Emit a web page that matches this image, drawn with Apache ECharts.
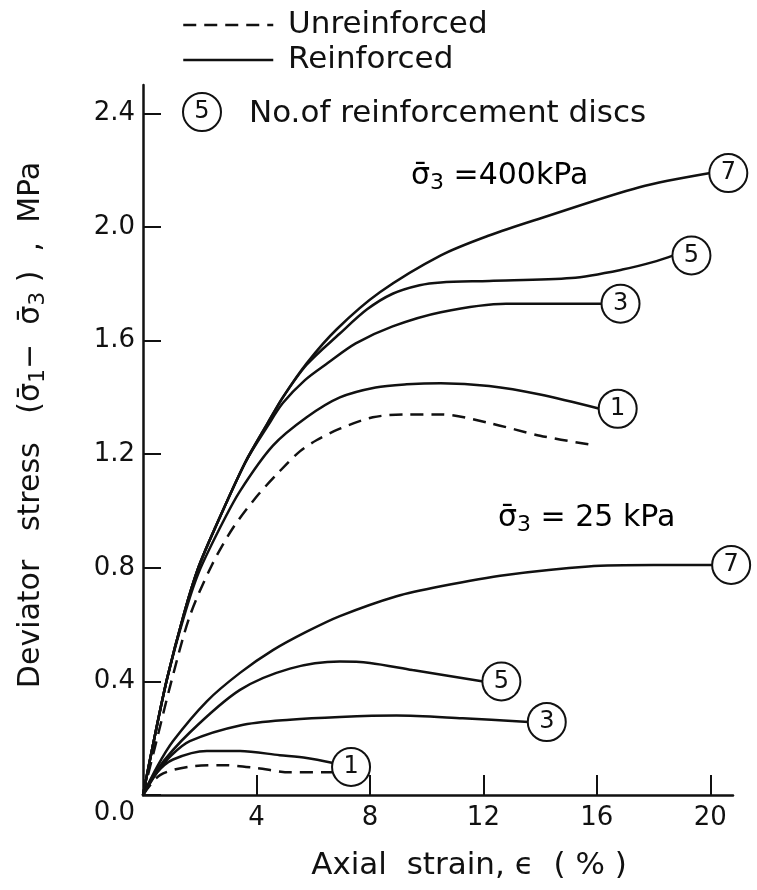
<!DOCTYPE html>
<html>
<head>
<meta charset="utf-8">
<script src="https://cdn.jsdelivr.net/npm/echarts@6/dist/echarts.min.js"></script>
<style>
html,body{margin:0;padding:0;background:#fff;}
#chart{width:757px;height:890px;}
</style>
</head>
<body>
<div id="chart"></div>
<script>
// ---- Data (axial strain %, deviator stress MPa) ----
const xTicks = [4, 8, 12, 16, 20];
const yTicks = [0, 0.4, 0.8, 1.2, 1.6, 2.0, 2.4];

// sigma3 = 400 kPa
const unreinforced400 = [[0,0],[0.5,0.2],[1.0,0.4],[1.65,0.63],[2.43,0.81],[3.17,0.94],[4.0,1.05],[4.82,1.14],[5.53,1.21],[6.13,1.25],[6.94,1.29],[8.1,1.33],[9.3,1.34],[10.5,1.34],[12.2,1.31],[14.0,1.265],[15.7,1.235]];
const discs7_400 = [[0,0],[0.4,0.2],[0.85,0.41],[1.45,0.64],[1.95,0.8],[2.54,0.94],[3.6,1.17],[4.4,1.31],[4.93,1.4],[5.77,1.52],[6.83,1.64],[8.35,1.77],[10.5,1.9],[12.2,1.97],[14.0,2.03],[17.5,2.14],[20.0,2.19]];
const discs5_400 = [[0,0],[0.4,0.2],[0.85,0.41],[1.45,0.64],[1.95,0.8],[2.54,0.94],[3.6,1.17],[4.4,1.31],[4.93,1.4],[5.77,1.515],[6.94,1.625],[7.9,1.71],[8.8,1.765],[9.75,1.795],[10.5,1.805],[12.2,1.81],[15.1,1.82],[16.9,1.85],[18.1,1.88],[18.7,1.9]];
const discs3_400 = [[0,0],[0.4,0.2],[0.85,0.41],[1.45,0.64],[1.95,0.8],[2.54,0.94],[3.6,1.17],[4.4,1.3],[4.93,1.38],[5.7,1.46],[6.5,1.52],[7.5,1.59],[8.8,1.65],[10.5,1.7],[12.8,1.73],[15.1,1.73],[16.2,1.73]];
const discs1_400 = [[0,0],[0.4,0.2],[0.85,0.41],[1.45,0.63],[1.95,0.78],[2.71,0.94],[3.42,1.07],[4.58,1.23],[5.77,1.33],[6.94,1.4],[8.2,1.435],[9.3,1.446],[10.5,1.45],[12.2,1.44],[14.0,1.41],[16.1,1.36]];

// sigma3 = 25 kPa
const unreinforced25 = [[0,0],[0.6,0.07],[1.65,0.1],[2.82,0.105],[4.0,0.095],[5.18,0.08],[6.7,0.08]];
const discs7_25 = [[0,0],[0.5,0.1],[1.06,0.19],[2.25,0.33],[3.42,0.43],[4.58,0.51],[5.77,0.575],[6.94,0.63],[8.94,0.7],[10.5,0.735],[12.8,0.775],[15.7,0.805],[18.0,0.81],[20.1,0.81]];
const discs5_25 = [[0,0],[0.5,0.09],[1.65,0.22],[3.42,0.37],[5.18,0.445],[6.94,0.47],[8.0,0.465],[9.5,0.44],[12.0,0.4]];
const discs3_25 = [[0,0],[0.5,0.08],[1.0,0.14],[1.65,0.19],[3.42,0.245],[5.18,0.265],[6.94,0.275],[8.94,0.28],[11.27,0.27],[13.6,0.257]];
const discs1_25 = [[0,0],[0.5,0.08],[1.06,0.125],[2.25,0.155],[3.42,0.155],[4.82,0.14],[5.77,0.13],[6.7,0.113]];

const FONT = 'DejaVu Sans';
const INK = '#111';
const SIGMA_RICH = {
  t: { fontSize: 30, fontFamily: FONT, color: INK, lineHeight: 40, verticalAlign: 'middle' },
  s: { fontSize: 22, fontFamily: FONT, color: INK, lineHeight: 40, verticalAlign: 'bottom', padding: [0, 0, 2, 0] }
};

function circleLabel(n, offset) {
  return {
    show: true,
    distance: 0,
    offset: offset || [0, 0],
    formatter: '{c|' + n + '}',
    rich: {
      c: {
        width: 36, height: 36, lineHeight: 36, align: 'center',
        borderRadius: 19, borderWidth: 2, borderColor: INK,
        backgroundColor: '#fff', color: INK, fontSize: 24, fontFamily: FONT
      }
    }
  };
}

function solid(data, n, offset) {
  return {
    name: 'Reinforced', type: 'line', data: data, symbol: 'none',
    smooth: 0.3, color: INK,
    lineStyle: { color: INK, width: 2.5 },
    endLabel: circleLabel(n, offset), z: 3
  };
}
function dashed(data) {
  return {
    name: 'Unreinforced', type: 'line', data: data, symbol: 'none',
    smooth: 0.3, color: INK,
    lineStyle: { color: INK, width: 2.5, type: [13, 8] }, z: 2
  };
}

const chart = echarts.init(document.getElementById('chart'), null, { renderer: 'canvas' });
chart.setOption({
  animation: false,
  backgroundColor: '#fff',
  grid: { left: 143, right: 24, top: 85, bottom: 95 },
  legend: {
    data: ['Unreinforced', 'Reinforced'],
    orient: 'vertical', left: 177, top: 4,
    itemWidth: 90, itemHeight: 14, itemGap: 3,
    selectedMode: false,
    itemStyle: { opacity: 0 },
    lineStyle: { width: 2.5, color: INK },
    formatter: function (name) { return ' ' + name; },
    textStyle: { fontSize: 31, fontFamily: FONT, color: INK, lineHeight: 32 }
  },
  xAxis: {
    type: 'value', min: 0, max: 20.8,
    splitLine: { show: false },
    axisLine: { show: true, lineStyle: { color: INK, width: 2.5 } },
    axisTick: { show: true, inside: true, length: 20, customValues: xTicks, lineStyle: { color: INK, width: 2 } },
    axisLabel: { customValues: xTicks, fontSize: 26, fontFamily: FONT, color: INK, margin: 10 },
    name: 'Axial  strain, ϵ  ( % )', nameLocation: 'middle', nameGap: 55,
    nameTextStyle: { fontSize: 31, fontFamily: FONT, color: INK, padding: [0, 0, 0, 62] }
  },
  yAxis: {
    type: 'value', min: 0, max: 2.5,
    splitLine: { show: false },
    axisLine: { show: true, lineStyle: { color: INK, width: 2.5 } },
    axisTick: { show: true, inside: true, length: 18, customValues: yTicks, lineStyle: { color: INK, width: 2 } },
    axisLabel: {
      customValues: yTicks, fontSize: 26, fontFamily: FONT, color: INK, margin: 8,
      formatter: function (v) { return v === 0 ? '{low|0.0}' : v.toFixed(1); },
      rich: { low: { fontSize: 26, fontFamily: FONT, color: INK, padding: [36, 0, 0, 0] } }
    },
    name: '{t|Deviator   stress   (σ̄}{s|1}{t|−  σ̄}{s|3}{t| )  ,  MPa}', nameLocation: 'middle', nameGap: 92, nameRotate: 90,
    nameTextStyle: { color: INK, padding: [0, 0, 0, 30], rich: SIGMA_RICH }
  },
  graphic: [
    { type: 'circle', shape: { cx: 202, cy: 112, r: 19 }, style: { fill: '#fff', stroke: INK, lineWidth: 2 } },
    { type: 'text', x: 202, y: 112, style: { text: '5', fontSize: 24, fontFamily: FONT, fill: INK, align: 'center', verticalAlign: 'middle' } },
    { type: 'text', x: 249, y: 114, style: { text: 'No.of reinforcement discs', fontSize: 31, fontFamily: FONT, fill: INK, align: 'left', verticalAlign: 'middle' } },
    { type: 'text', x: 411, y: 176, style: { text: '{t|σ̄}{s|3}{t| =400kPa}', rich: SIGMA_RICH, align: 'left', verticalAlign: 'middle' } },
    { type: 'text', x: 498, y: 518, style: { text: '{t|σ̄}{s|3}{t| = 25 kPa}', rich: SIGMA_RICH, align: 'left', verticalAlign: 'middle' } }
  ],
  series: [
    dashed(unreinforced400),
    solid(discs7_400, 7),
    solid(discs5_400, 5),
    solid(discs3_400, 3),
    solid(discs1_400, 1),
    dashed(unreinforced25),
    solid(discs7_25, 7),
    solid(discs5_25, 5),
    solid(discs3_25, 3),
    solid(discs1_25, 1, [0, 4])
  ]
});
</script>
</body>
</html>
